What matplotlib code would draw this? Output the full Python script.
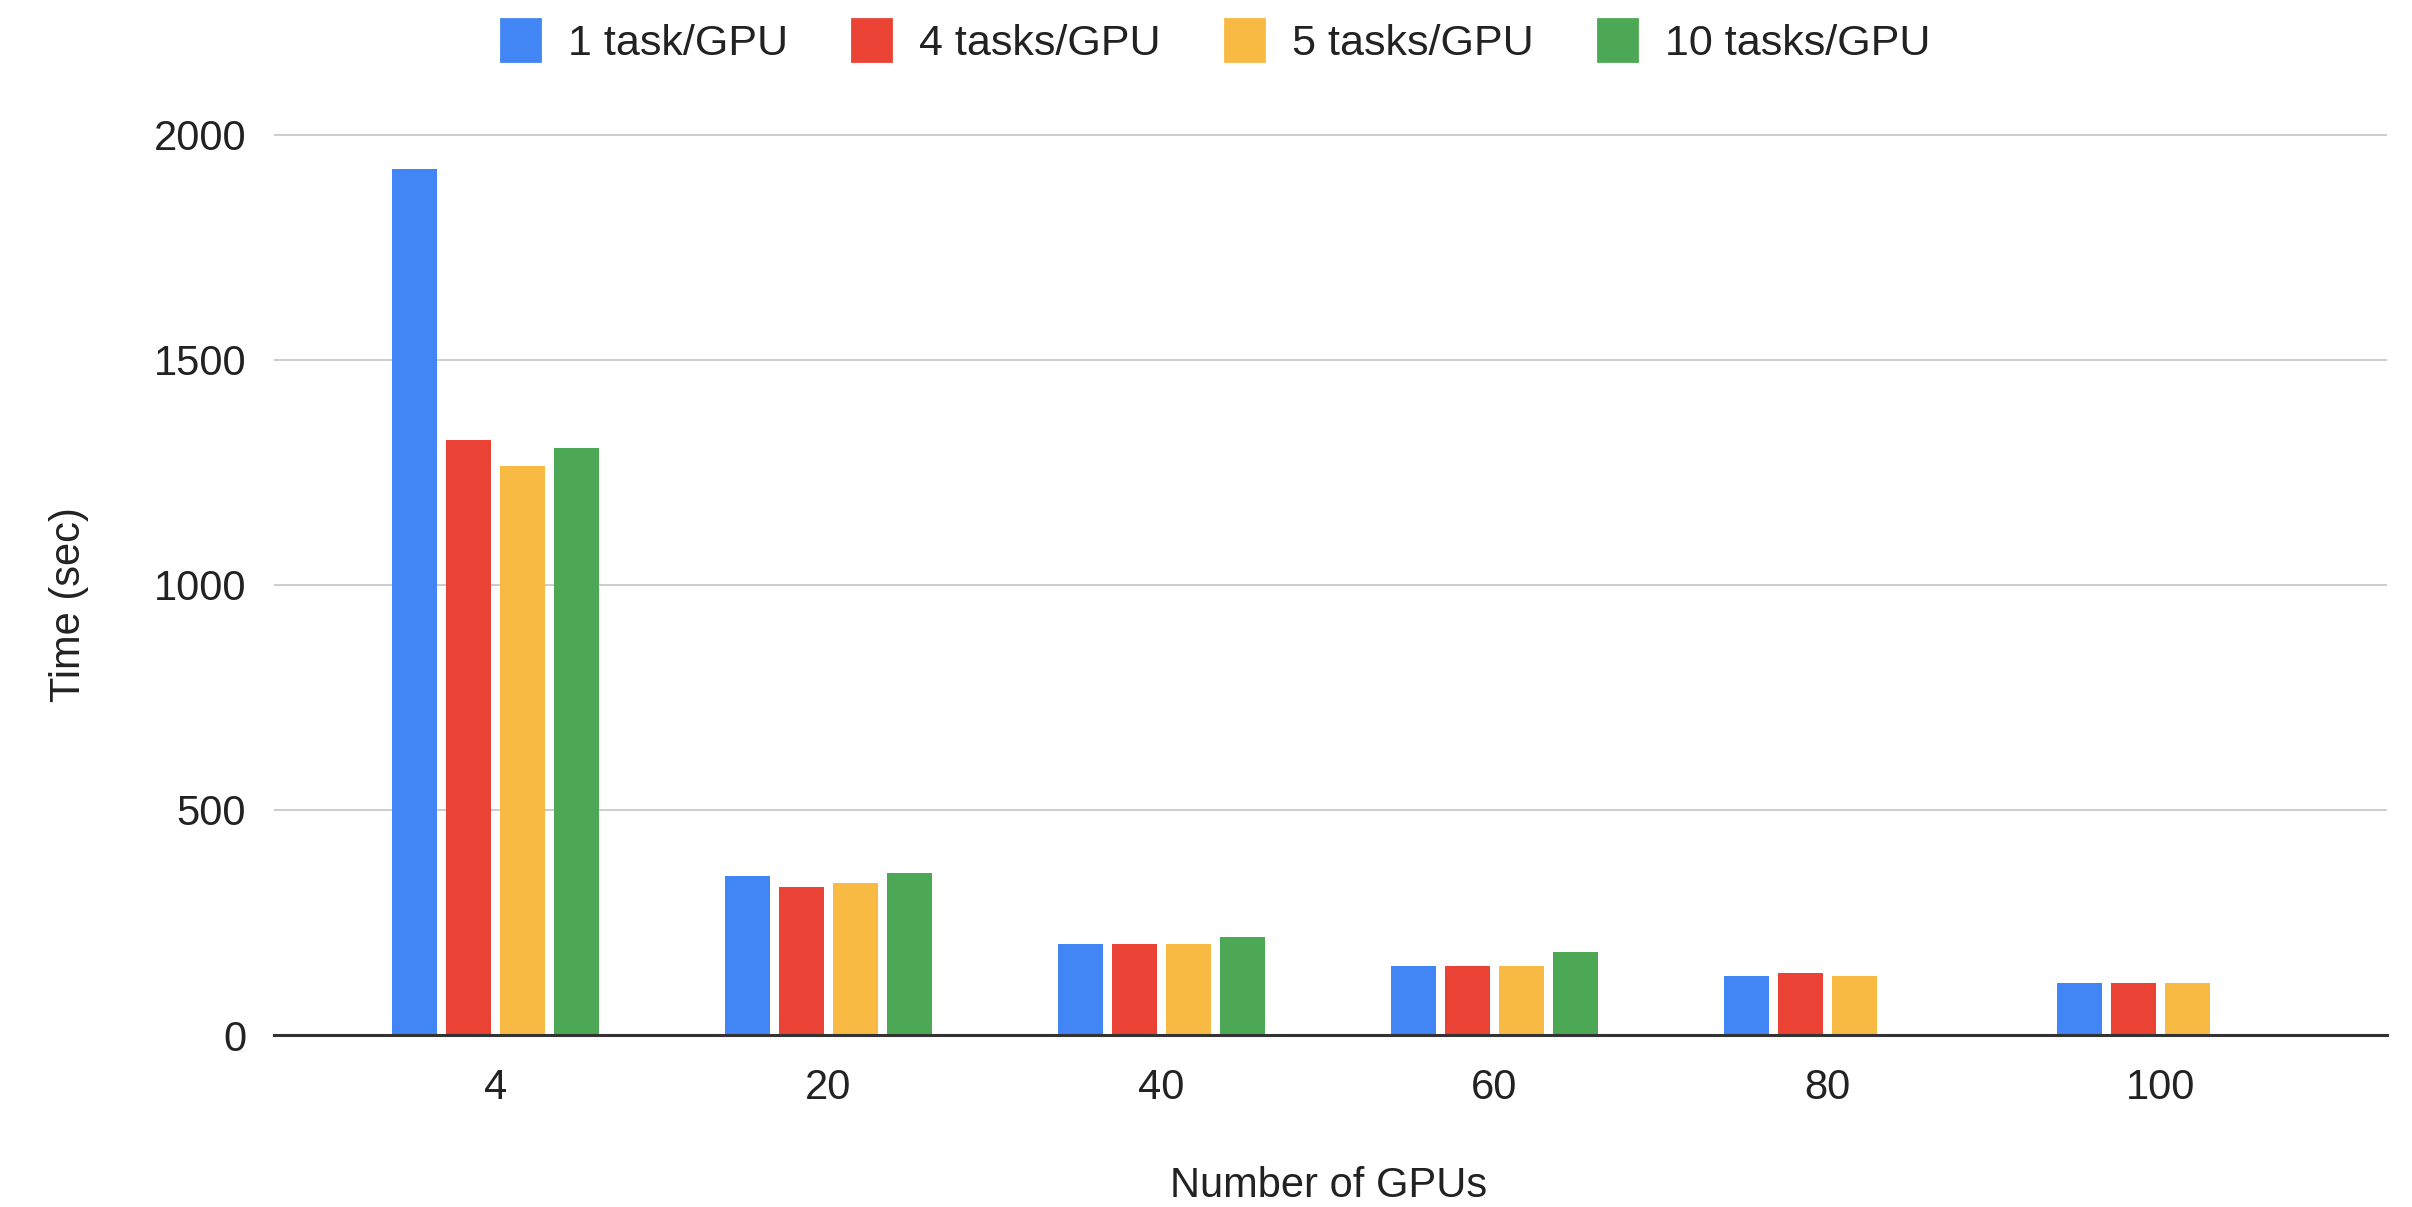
import matplotlib
matplotlib.use('Agg')
import matplotlib.pyplot as plt
import matplotlib.patches as mpatches
import numpy as np

plt.rcParams['font.family'] = ['Liberation Sans', 'DejaVu Sans']

gpus = ['4', '20', '40', '60', '80', '100']
series_names = ['1 task/GPU', '4 tasks/GPU', '5 tasks/GPU', '10 tasks/GPU']
one_task = [1924, 353, 202, 153, 131, 115]
four_tasks = [1321, 328, 202, 153, 138, 115]
five_tasks = [1265, 337, 202, 153, 131, 115]
ten_tasks = [1305, 360, 217, 185, np.nan, np.nan]
colors = ['#4285F4', '#EA4335', '#F8BA43', '#4CA854']

fig = plt.figure(figsize=(12.06, 6.035), dpi=200)
ax = fig.add_axes([0.1136, 0.1425, 0.8760, 0.7476])

x = np.arange(len(gpus))
pitch = 0.162
width = 0.137
for i, (vals, c) in enumerate(zip([one_task, four_tasks, five_tasks, ten_tasks], colors)):
    ax.bar(x + (i - 1.5) * pitch, vals, width=width, color=c, label=series_names[i], zorder=3)

ax.set_xlim(-0.665, 5.68)
ax.set_ylim(0, 2005)
ax.set_yticks([0, 500, 1000, 1500, 2000])
ax.set_xticks(x)
ax.set_xticklabels(gpus)
ax.tick_params(axis='both', length=0, labelsize=15, colors='#222222')
ax.tick_params(axis='y', pad=10)
ax.tick_params(axis='x', pad=12)
ax.grid(axis='y', color='#CCCCCC', linewidth=0.7, zorder=0)
for s in ['top', 'right', 'left']:
    ax.spines[s].set_visible(False)
ax.spines['bottom'].set_color('#333333')
ax.spines['bottom'].set_linewidth(1.1)
ax.spines['bottom'].set_zorder(4)

fig.text(0.0286, 0.499, 'Time (sec)', rotation=90, ha='center', va='center',
         fontsize=15, color='#222222')
fig.text(0.551, 0.0174, 'Number of GPUs', ha='center', va='center',
         fontsize=15, color='#222222')

# legend across the top, square swatches
handles = [mpatches.Patch(color=c) for c in colors]
fig.legend(handles, series_names, loc='center', bbox_to_anchor=(0.504, 0.9656), ncol=4,
           frameon=False, fontsize=15.5, handlelength=0.9, handleheight=1.1,
           handletextpad=0.65, columnspacing=1.5, labelcolor='#222222')

fig.savefig('out.png', dpi=200)
